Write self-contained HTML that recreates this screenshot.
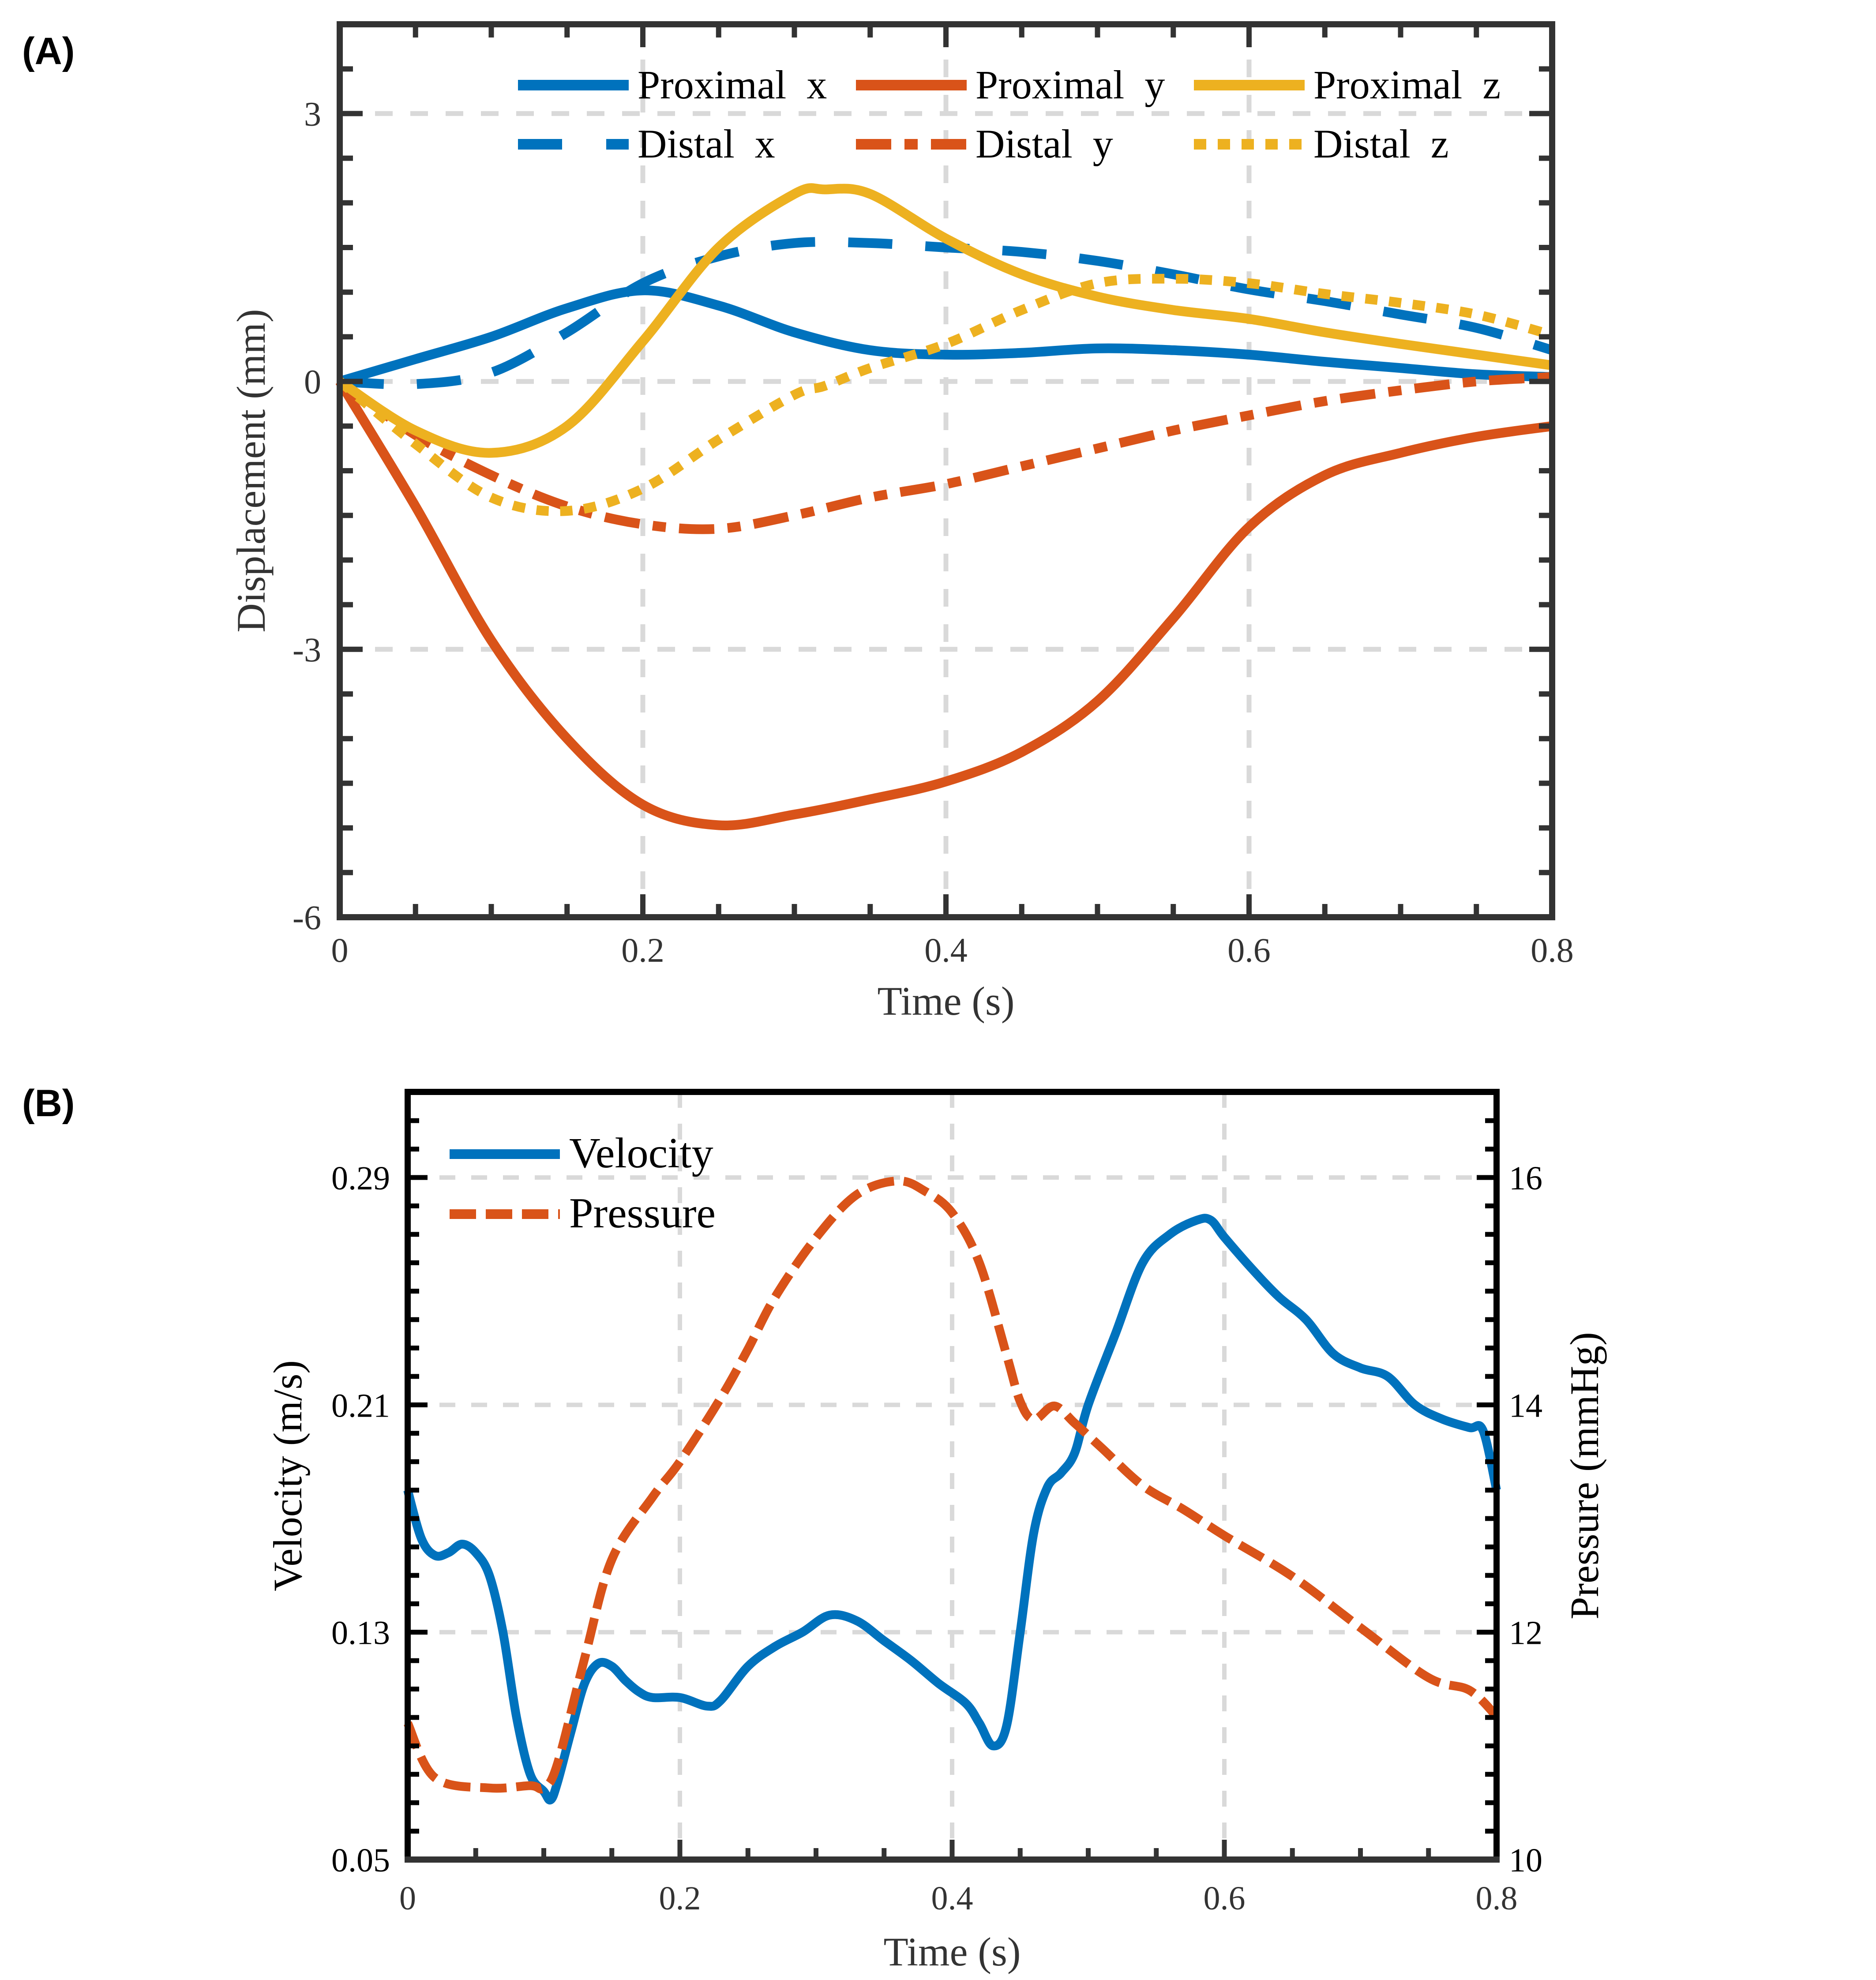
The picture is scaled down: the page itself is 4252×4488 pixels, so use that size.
<!DOCTYPE html>
<html><head><meta charset="utf-8"><style>
html,body{margin:0;padding:0;background:#fff;}
svg{display:block;}
text{font-family:"Liberation Serif",serif;}
text.sans{font-family:"Liberation Sans",sans-serif;font-weight:bold;}
text.pre{white-space:pre;}
</style></head>
<body>
<svg id="fig" width="4252" height="4488" viewBox="0 0 4252 4488" xmlns="http://www.w3.org/2000/svg">
<rect width="4252" height="4488" fill="#fff"/>
<text class="sans" x="50" y="145" font-size="86" fill="#000">(A)</text>
<text class="sans" x="50" y="2530" font-size="86" fill="#000">(B)</text>
<g id="A"></g>
<g id="B"></g>
</svg>
<script>
// ---- Panel A data ----
const tA = [0,0.05,0.1,0.15,0.2,0.25,0.3,0.35,0.4,0.45,0.5,0.55,0.6,0.65,0.7,0.75,0.8];
const proxX = [0,0.25,0.5,0.82,1.02,0.85,0.55,0.35,0.3,0.32,0.37,0.35,0.3,0.22,0.15,0.08,0.05];
const distX = [0,-0.03,0.1,0.55,1.1,1.4,1.55,1.55,1.5,1.45,1.35,1.2,1.03,0.9,0.75,0.6,0.35];
const proxY = [0,-1.4,-2.9,-4.0,-4.74,-4.97,-4.85,-4.68,-4.48,-4.15,-3.58,-2.65,-1.63,-1.05,-0.8,-0.62,-0.5];
const distY = [0,-0.6,-1.05,-1.4,-1.6,-1.65,-1.5,-1.3,-1.15,-0.95,-0.75,-0.55,-0.38,-0.22,-0.1,0.0,0.05];
const tZ = [0,0.05,0.1,0.15,0.2,0.25,0.3,0.32,0.35,0.4,0.45,0.5,0.55,0.6,0.65,0.7,0.75,0.8];
const proxZ = [0,-0.55,-0.8,-0.5,0.45,1.5,2.1,2.15,2.1,1.6,1.2,0.95,0.8,0.7,0.55,0.42,0.3,0.18];
const distZ = [0,-0.7,-1.3,-1.45,-1.2,-0.65,-0.15,-0.05,0.15,0.42,0.8,1.1,1.15,1.1,0.98,0.88,0.75,0.52];
const xTicksA = [0,0.2,0.4,0.6,0.8];
const xTickLabelsA = ["0","0.2","0.4","0.6","0.8"];
const yTicksA = [3,0,-3,-6];
const yTickLabelsA = ["3","0","-3","-6"];
// ---- Panel B data ----
const tV = [0,0.01,0.02,0.03,0.04,0.05,0.06,0.07,0.08,0.09,0.1,0.105,0.11,0.12,0.13,0.14,0.15,0.16,0.17,0.18,0.2,0.22,0.23,0.25,0.27,0.29,0.31,0.33,0.35,0.37,0.39,0.41,0.42,0.43,0.44,0.45,0.46,0.47,0.48,0.49,0.5,0.52,0.54,0.56,0.58,0.59,0.6,0.62,0.64,0.66,0.68,0.7,0.72,0.74,0.76,0.78,0.79,0.8];
const velocity = [0.18,0.163,0.157,0.158,0.161,0.158,0.15,0.13,0.1,0.08,0.074,0.071,0.077,0.095,0.112,0.119,0.118,0.113,0.109,0.107,0.107,0.104,0.106,0.118,0.125,0.13,0.136,0.134,0.127,0.12,0.112,0.105,0.098,0.09,0.097,0.13,0.165,0.181,0.186,0.193,0.21,0.235,0.26,0.27,0.275,0.275,0.269,0.258,0.248,0.24,0.228,0.223,0.22,0.21,0.205,0.202,0.201,0.18];
const tP = [0,0.02,0.06,0.09,0.1,0.11,0.13,0.15,0.18,0.2,0.23,0.25,0.27,0.3,0.33,0.36,0.38,0.4,0.42,0.44,0.45,0.46,0.475,0.49,0.51,0.54,0.57,0.6,0.65,0.7,0.75,0.78,0.8];
const pressure = [11.2,10.72,10.63,10.65,10.63,10.84,11.77,12.64,13.19,13.5,14.06,14.49,14.95,15.47,15.85,15.97,15.88,15.69,15.25,14.44,14.03,13.87,13.99,13.84,13.62,13.29,13.08,12.85,12.49,12.04,11.6,11.49,11.26];
const xTicksB = [0,0.2,0.4,0.6,0.8];
const xTickLabelsB = ["0","0.2","0.4","0.6","0.8"];
const vTicks = [0.29,0.21,0.13,0.05];
const vTickLabels = ["0.29","0.21","0.13","0.05"];
const pTicks = [16,14,12,10];
const pTickLabels = ["16","14","12","10"];

const NS="http://www.w3.org/2000/svg";
function mk(parent,tag,attrs,txt){const e=document.createElementNS(NS,tag);for(const k in attrs)e.setAttribute(k,attrs[k]);if(txt!==undefined)e.textContent=txt;parent.appendChild(e);return e;}
function smooth(pts){let d="M"+pts[0][0].toFixed(1)+","+pts[0][1].toFixed(1);
 for(let i=0;i<pts.length-1;i++){const p0=pts[i-1]||pts[i],p1=pts[i],p2=pts[i+1],p3=pts[i+2]||p2;
  const c1=[p1[0]+(p2[0]-p0[0])/6,p1[1]+(p2[1]-p0[1])/6],c2=[p2[0]-(p3[0]-p1[0])/6,p2[1]-(p3[1]-p1[1])/6];
  d+="C"+c1[0].toFixed(1)+","+c1[1].toFixed(1)+" "+c2[0].toFixed(1)+","+c2[1].toFixed(1)+" "+p2[0].toFixed(1)+","+p2[1].toFixed(1);}
 return d;}
const BLUE="#0072BD",RED="#D95319",YEL="#EDB120",GRID="#d9d9d9";

// ===== Panel A =====
(function(){
 const g=document.getElementById("A");
 const L=770,R=3518,T=55,B=2079,ymin=-6,ymax=4;
 const X=t=>L+(t/0.8)*(R-L), Y=v=>B-(v-ymin)/(ymax-ymin)*(B-T);
 xTicksA.forEach(t=>{if(t>0&&t<0.8){const l=mk(g,"line",{x1:X(t),x2:X(t),y1:T,y2:B,stroke:GRID,"stroke-width":11,"stroke-dasharray":"40,40"});
  }});
 yTicksA.forEach(v=>{if(v>ymin&&v<ymax){const l=mk(g,"line",{x1:L,x2:R,y1:Y(v),y2:Y(v),stroke:GRID,"stroke-width":11,"stroke-dasharray":"40,40"});
  }});
 const series=[[tA,proxX,BLUE,"","proximal-x-line"],[tA,distX,BLUE,"100,75","distal-x-line"],[tA,proxY,RED,"","proximal-y-line"],[tA,distY,RED,"80,30,30,30","distal-y-line"],[tZ,proxZ,YEL,"","proximal-z-line"],[tZ,distZ,YEL,"28,26","distal-z-line"]];
 series.forEach(s=>{const p=mk(g,"path",{d:smooth(s[0].map((t,i)=>[X(t),Y(s[1][i])])),fill:"none",stroke:s[2],"stroke-width":22,"stroke-dasharray":s[3]||"none"});
  });
 for(let k=1;k<16;k++){const t=k*0.05,len=(k%4==0)?52:30;
  mk(g,"line",{x1:X(t),x2:X(t),y1:B,y2:B-len,stroke:"#333","stroke-width":12});
  mk(g,"line",{x1:X(t),x2:X(t),y1:T,y2:T+len,stroke:"#333","stroke-width":12});}
 for(let k=1;k<20;k++){const v=ymin+k*0.5,len=(k%6==0)?52:30;
  mk(g,"line",{x1:L,x2:L+len,y1:Y(v),y2:Y(v),stroke:"#333","stroke-width":12});
  mk(g,"line",{x1:R,x2:R-len,y1:Y(v),y2:Y(v),stroke:"#333","stroke-width":12});}
 const box=mk(g,"rect",{x:L,y:T,width:R-L,height:B-T,fill:"none",stroke:"#333","stroke-width":14});
 
 xTicksA.forEach((t,i)=>{const e=mk(g,"text",{x:X(t),y:2180,"text-anchor":"middle","font-size":78,fill:"#333"},xTickLabelsA[i]);
  });
 yTicksA.forEach((v,i)=>{const e=mk(g,"text",{x:728,y:Y(v)+27,"text-anchor":"end","font-size":78,fill:"#333"},yTickLabelsA[i]);
  });
 const xt=mk(g,"text",{x:(L+R)/2,y:2300,"text-anchor":"middle","font-size":92,fill:"#333"},"Time (s)");
 
 const yt=mk(g,"text",{x:0,y:0,transform:"translate(600,"+(T+B)/2+") rotate(-90)","text-anchor":"middle","font-size":92,fill:"#333"},"Displacement (mm)");
 
 const leg=[["Proximal  x",BLUE,"",1174,193],["Proximal  y",RED,"",1940,193],["Proximal  z",YEL,"",2706,193],["Distal  x",BLUE,"100,100",1174,327],["Distal  y",RED,"80,30,30,30",1940,327],["Distal  z",YEL,"28,26",2706,327]];
 leg.forEach(e=>{const x=+e[3];const gr=mk(g,"g",{});
  
  mk(gr,"line",{x1:x,x2:x+251,y1:e[4],y2:e[4],stroke:e[1],"stroke-width":24,"stroke-dasharray":e[2]||"none"});
  mk(gr,"text",{x:x+271,y:e[4]+30,"font-size":92,fill:"#000","class":"pre"},e[0]);});
})();

// ===== Panel B =====
(function(){
 const g=document.getElementById("B");
 const L=924,R=3392,T=2475,B=4215;
 const span=4215-2669;
 const vmin=0.05,vmax=0.05+0.24*(B-T)/span,pmin=10,pmax=10+6*(B-T)/span;
 const X=t=>L+(t/0.8)*(R-L), YV=v=>B-(v-vmin)/(vmax-vmin)*(B-T), YP=p=>B-(p-pmin)/(pmax-pmin)*(B-T);
 xTicksB.forEach(t=>{if(t>0&&t<0.8){const l=mk(g,"line",{x1:X(t),x2:X(t),y1:T,y2:B,stroke:GRID,"stroke-width":10,"stroke-dasharray":"36,36"});
  }});
 vTicks.forEach(v=>{if(v>vmin){const l=mk(g,"line",{x1:L,x2:R,y1:YV(v),y2:YV(v),stroke:GRID,"stroke-width":10,"stroke-dasharray":"36,36"});
  }});
 const pv=mk(g,"path",{d:smooth(tV.map((t,i)=>[X(t),YV(velocity[i])])),fill:"none",stroke:BLUE,"stroke-width":20});
 
 const pp=mk(g,"path",{d:smooth(tP.map((t,i)=>[X(t),YP(pressure[i])])),fill:"none",stroke:RED,"stroke-width":20,"stroke-dasharray":"60,22"});
 
 for(let k=1;k<16;k++){const t=k*0.05,len=(k%4==0)?45:26;
  mk(g,"line",{x1:X(t),x2:X(t),y1:B,y2:B-len,stroke:"#333","stroke-width":11});}
 for(let k=1;0.05+k*0.01<vmax-0.001;k++){const v=0.05+k*0.01;const big=[0.13,0.21,0.29].some(m=>Math.abs(m-v)<0.001);
  mk(g,"line",{x1:L,x2:L+(big?45:26),y1:YV(v),y2:YV(v),stroke:"#000","stroke-width":11});}
 for(let k=1;10+k*0.25<pmax-0.01;k++){const p=10+k*0.25;const big=(k%8==0);
  mk(g,"line",{x1:R,x2:R-(big?45:26),y1:YP(p),y2:YP(p),stroke:"#000","stroke-width":11});}
 mk(g,"polyline",{points:`${L},${B} ${L},${T} ${R},${T} ${R},${B}`,fill:"none",stroke:"#000","stroke-width":14});
 const bx=mk(g,"line",{x1:L-7,x2:R+7,y1:B,y2:B,stroke:"#333","stroke-width":14});
 
 xTicksB.forEach((t,i)=>{const e=mk(g,"text",{x:X(t),y:4328,"text-anchor":"middle","font-size":76,fill:"#333"},xTickLabelsB[i]);
  });
 vTicks.forEach((v,i)=>{const e=mk(g,"text",{x:884,y:YV(v)+27,"text-anchor":"end","font-size":76,fill:"#000"},vTickLabels[i]);
  });
 pTicks.forEach((p,i)=>{const e=mk(g,"text",{x:R+28,y:YP(p)+27,"text-anchor":"start","font-size":76,fill:"#000"},pTickLabels[i]);
  });
 const xt=mk(g,"text",{x:(L+R)/2,y:4455,"text-anchor":"middle","font-size":92,fill:"#333"},"Time (s)");
 
 const yt=mk(g,"text",{x:0,y:0,transform:"translate(683,"+(T+B)/2+") rotate(-90)","text-anchor":"middle","font-size":92,fill:"#000"},"Velocity (m/s)");
 
 const yt2=mk(g,"text",{x:0,y:0,transform:"translate(3622,"+(T+B)/2+") rotate(-90)","text-anchor":"middle","font-size":92,fill:"#000"},"Pressure (mmHg)");
 
 const leg=[["Velocity",BLUE,"",2616],["Pressure",RED,"60,22",2752]];
 leg.forEach(e=>{const gr=mk(g,"g",{});
  
  mk(gr,"line",{x1:1019,x2:1269,y1:e[3],y2:e[3],stroke:e[1],"stroke-width":22,"stroke-dasharray":e[2]||"none"});
  mk(gr,"text",{x:1290,y:e[3]+30,"font-size":98,fill:"#000"},e[0]);});
})();
</script>
</body></html>
